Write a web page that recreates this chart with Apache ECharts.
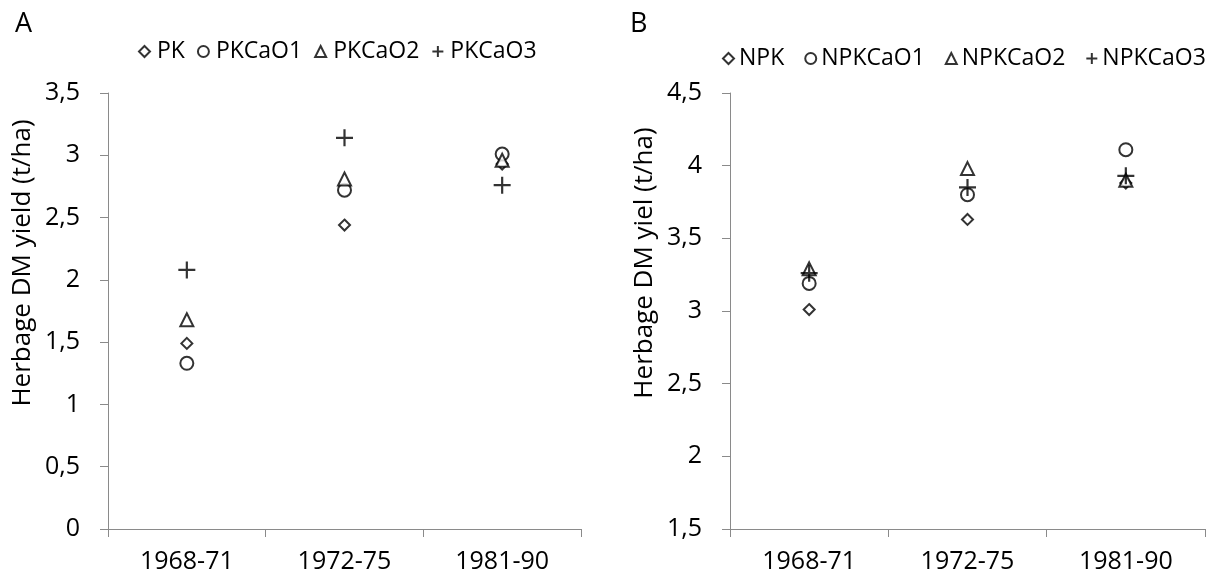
<!DOCTYPE html>
<html>
<head>
<meta charset="utf-8">
<script src="https://cdn.jsdelivr.net/npm/echarts@6/dist/echarts.min.js"></script>
<style>
html,body{margin:0;padding:0;background:#fff;}
#chart{width:1218px;height:576px;}
</style>
</head>
<body>
<div id="chart"></div>
<script>
// ---- data ----
const categories = ['1968-71', '1972-75', '1981-90'];
const seriesNamesA = ['PK', 'PKCaO1', 'PKCaO2', 'PKCaO3'];
const seriesNamesB = ['NPK', 'NPKCaO1', 'NPKCaO2', 'NPKCaO3'];
const pk      = [1.49, 2.44, 2.93];
const pkCaO1  = [1.33, 2.72, 3.01];
const pkCaO2  = [1.68, 2.81, 2.96];
const pkCaO3  = [2.08, 3.14, 2.76];
const npk     = [3.01, 3.63, 3.88];
const npkCaO1 = [3.19, 3.80, 4.11];
const npkCaO2 = [3.29, 3.98, 3.90];
const npkCaO3 = [3.26, 3.85, 3.93];
const yTicksA = [0, 3.5, 0.5];   // min, max, interval
const yTicksB = [1.5, 4.5, 0.5];

const FONT = '"Open Sans", "Noto Sans", sans-serif';
const plusPath = 'path://M0,6L12,6M6,0L6,12';
const symbols = ['diamond', 'circle', 'triangle', plusPath];
const sizes = [11, 13, 13, 17];
const valuesA = [pk, pkCaO1, pkCaO2, pkCaO3];
const valuesB = [npk, npkCaO1, npkCaO2, npkCaO3];

function mkSeries(names, values, idx) {
  return names.map((n, i) => ({
    name: n,
    type: 'scatter',
    xAxisIndex: idx, yAxisIndex: idx,
    symbol: symbols[i],
    symbolSize: sizes[i],
    itemStyle: i === 3
      ? { color: 'transparent', borderColor: '#000', borderWidth: 2.2 }
      : { color: '#fff', borderColor: '#000', borderWidth: 2 },
    data: values[i],
    z: 3 + i
  }));
}

const comma = v => String(v).replace('.', ',');

function xAxis(idx) {
  return {
    type: 'category', gridIndex: idx, data: categories,
    boundaryGap: true,
    axisLine: { lineStyle: { color: '#8a8a8a', width: 1 } },
    axisTick: { show: true, length: 8, lineStyle: { color: '#8a8a8a' } },
    axisLabel: { color: '#000', fontFamily: FONT, fontSize: 25, margin: 20 },
    splitLine: { show: false }
  };
}
function yAxis(idx, t, name) {
  return {
    type: 'value', gridIndex: idx, min: t[0], max: t[1], interval: t[2],
    name: name, nameLocation: 'middle', nameGap: 72,
    nameTextStyle: { color: '#000', fontFamily: FONT, fontSize: 26, padding: [0, 0, 0, 96] },
    axisLine: { show: true, lineStyle: { color: '#8a8a8a' } },
    axisTick: { show: true, length: 8, lineStyle: { color: '#8a8a8a' } },
    axisLabel: { color: '#000', fontFamily: FONT, fontSize: 25, margin: 28, formatter: comma },
    splitLine: { show: false }
  };
}

const legendTextA = { color: '#000', fontFamily: FONT, fontSize: 23, padding: [0, 0, 0, 2] };
const legendTextB = { color: '#000', fontFamily: FONT, fontSize: 23 };

const option = {
  backgroundColor: '#fff',
  animation: false,
  title: [
    { text: 'A', left: 10, top: 6, textStyle: { fontFamily: FONT, fontSize: 27, fontWeight: 'normal', color: '#000' } },
    { text: 'B', left: 625, top: 6, textStyle: { fontFamily: FONT, fontSize: 27, fontWeight: 'normal', color: '#000' } }
  ],
  legend: [
    { data: seriesNamesA, left: 138, top: 40, width: 460, itemGap: 12, itemWidth: 11, itemHeight: 11,
      textStyle: legendTextA, padding: 0 },
    { data: seriesNamesB, left: 722, top: 47, width: 496, itemGap: 20, itemWidth: 11, itemHeight: 11,
      textStyle: legendTextB, padding: 0 }
  ],
  grid: [
    { left: 108, top: 93, width: 473, height: 436 },
    { left: 730, top: 93, width: 475, height: 436 }
  ],
  xAxis: [xAxis(0), xAxis(1)],
  yAxis: [yAxis(0, yTicksA, 'Herbage DM yield (t/ha)'), yAxis(1, yTicksB, 'Herbage DM yiel (t/ha)')],
  series: [...mkSeries(seriesNamesA, valuesA, 0), ...mkSeries(seriesNamesB, valuesB, 1)]
};

const chart = echarts.init(document.getElementById('chart'), null, { renderer: 'canvas' });
chart.setOption(option);
</script>
</body>
</html>
